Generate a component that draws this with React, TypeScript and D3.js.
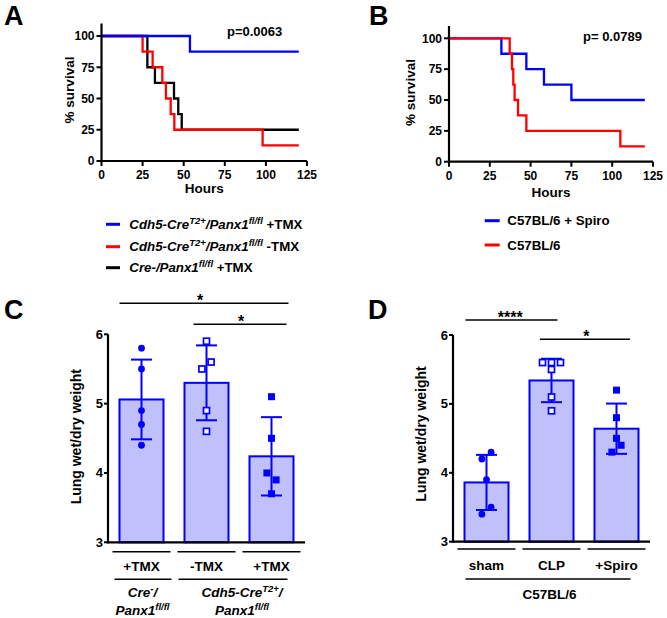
import React from "react";
import * as d3 from "d3";

// ---------- Data ----------
const hoursTicks = [0, 25, 50, 75, 100, 125];
const survivalTicks = [0, 25, 50, 75, 100];

// Panel A survival curves (time in hours, % survival after each step)
const aBlueT = [0, 53.8, 120];
const aBlueS = [100, 87.5, 87.5];
const aRedT = [0, 25, 31.1, 37, 39.2, 42.1, 44.3, 98, 120];
const aRedS = [100, 87.5, 75, 62.5, 50, 37.5, 25, 12.5, 12.5];
const aBlackT = [0, 27.9, 32.5, 44.1, 46.7, 48.8, 120];
const aBlackS = [100, 75, 62.5, 50, 37.5, 25, 25];
const pValueA = "p=0.0063";

// Panel B survival curves
const bBlueT = [0, 32.1, 47.4, 58.2, 75, 120];
const bBlueS = [100, 87.5, 75, 62.5, 50, 50];
const bRedT = [0, 37.2, 38.6, 39.4, 40.2, 42.3, 47.4, 105, 120];
const bRedS = [100, 87.5, 75, 62.5, 50, 37.5, 25, 12.5, 12.5];
const pValueB = "p= 0.0789";

// Panel C / D lung wet/dry weight
const weightTicks = [3, 4, 5, 6];
const cCategories = ["+TMX", "-TMX", "+TMX"];
const cMeans = [5.06, 5.3, 4.24];
const cSD = [0.575, 0.54, 0.565];
const cPoints1 = [5.8, 5.5, 4.9, 4.7, 4.4];
const cPoints2 = [5.9, 5.5, 5.6, 4.9, 4.6];
const cPoints3 = [5.1, 4.5, 4.0, 3.9, 3.7];

const dCategories = ["sham", "CLP", "+Spiro"];
const dMeans = [3.86, 5.34, 4.64];
const dSD = [0.4, 0.315, 0.365];
const dPoints1 = [4.2, 4.3, 3.9, 3.4, 3.5];
const dPoints2 = [5.6, 5.6, 5.6, 5.5, 5.1, 4.9];
const dPoints3 = [5.2, 4.8, 4.3, 4.5, 4.4];

// ---------- Styles ----------
const FONT = "'Liberation Sans', Arial, Helvetica, sans-serif";
const BLUE = "#0000ff";
const RED = "#ff0000";
const BLACK = "#000000";
const BAR_FILL = "#c0c0fc";

type Curve = { t: number[]; s: number[]; color: string };

function SurvivalPanel(props: {
  x0: number; x1: number; y0: number; y100: number;
  curves: Curve[]; pText: string; pX: number; pY: number;
  letter: string; letterX: number; hoursY: number; ylabelX: number; ylabelY: number;
}) {
  const { x0, x1, y0, y100, curves, pText, pX, pY, letter, letterX, hoursY, ylabelX, ylabelY } = props;
  const x = d3.scaleLinear().domain([0, 125]).range([x0, x1]);
  const y = d3.scaleLinear().domain([0, 100]).range([y0, y100]);
  const line = d3
    .line<number>()
    .curve(d3.curveStepAfter);
  return (
    <g fontFamily={FONT} fontWeight="bold">
      <text x={letterX} y={25} fontSize={27}>{letter}</text>
      {curves.map((c, i) => {
        const pts: [number, number][] = c.t.map((t, k) => [x(t), y(c.s[k])]);
        const path = d3.line().curve(d3.curveStepAfter)(pts) || "";
        return <path key={i} d={path} fill="none" stroke={c.color} strokeWidth={2.3} />;
      })}
      {/* axes */}
      <line x1={x(0)} x2={x(0)} y1={y(0) + 1} y2={y(110)} stroke={BLACK} strokeWidth={2.2} />
      <line x1={x(0) - 1} x2={x(125)} y1={y(0)} y2={y(0)} stroke={BLACK} strokeWidth={2.2} />
      {survivalTicks.map((t) => (
        <g key={"y" + t}>
          <line x1={x(0) - 5} x2={x(0)} y1={y(t)} y2={y(t)} stroke={BLACK} strokeWidth={2} />
          <text x={x(0) - 7} y={y(t) + 4.3} fontSize={12} textAnchor="end">{t}</text>
        </g>
      ))}
      {hoursTicks.map((t) => (
        <g key={"x" + t}>
          <line x1={x(t)} x2={x(t)} y1={y(0)} y2={y(0) + 5} stroke={BLACK} strokeWidth={2} />
          <text x={x(t)} y={y(0) + 18} fontSize={12} textAnchor="middle">{t}</text>
        </g>
      ))}
      <text x={(x(0) + x(125)) / 2} y={hoursY} fontSize={13.5} textAnchor="middle">Hours</text>
      <text transform={`translate(${ylabelX},${ylabelY}) rotate(-90)`} fontSize={13.5} textAnchor="middle">% survival</text>
      <text x={pX} y={pY} fontSize={13}>{pText}</text>
    </g>
  );
}

function dodge(values: number[], yScale: (v: number) => number) {
  const offsets = values.map(() => 0);
  const rowSpacing = 9;
  const spread = 4.6;
  const thresh = 7.2;
  const items = values.map((v, i) => ({ v, i }));
  const groups = d3.group(items, (d) => d.v);
  const singles: { v: number; i: number }[] = [];
  for (const [, arr] of groups) {
    if (arr.length > 1) arr.forEach((d, k) => (offsets[d.i] = (k - (arr.length - 1) / 2) * rowSpacing));
    else singles.push(arr[0]);
  }
  const sorted = singles.slice().sort((a, b) => b.v - a.v);
  let cluster: { v: number; i: number }[] = [];
  const flush = () => {
    if (cluster.length > 1) {
      const c = cluster.slice().sort((a, b) => a.i - b.i);
      c.forEach((d, k) => (offsets[d.i] = -spread + (2 * spread * k) / (c.length - 1)));
    }
    cluster = [];
  };
  sorted.forEach((d) => {
    if (cluster.length && Math.abs(yScale(cluster[cluster.length - 1].v) - yScale(d.v)) >= thresh) flush();
    cluster.push(d);
  });
  flush();
  return offsets;
}

function Marker({ kind, cx, cy }: { kind: number; cx: number; cy: number }) {
  if (kind === 0) return <circle cx={cx} cy={cy} r={3.4} fill={BLUE} />;
  if (kind === 1)
    return <rect x={cx - 3} y={cy - 3} width={6} height={6} fill="white" stroke={BLUE} strokeWidth={1.7} />;
  return <rect x={cx - 3.5} y={cy - 3.5} width={7} height={7} fill={BLUE} />;
}

function BarPanel(props: {
  axisX: number; y6: number; y3: number; categories: string[]; means: number[]; sds: number[];
  points: number[][]; letter: string; letterX: number; ylabelX: number; ylabelY: number;
  row1Y: number; row2Y: number; labelY: number; children?: (x: d3.ScaleBand<string>, y: d3.ScaleLinear<number, number>) => React.ReactNode;
}) {
  const { axisX, y6, y3, categories, means, sds, points, letter, letterX, ylabelX, ylabelY, row1Y, labelY } = props;
  const keys = categories.map((c, i) => i + ":" + c);
  const x = d3.scaleBand<string>().domain(keys).range([axisX, axisX + 197]).paddingInner(0.323).paddingOuter(0.177);
  const y = d3.scaleLinear().domain([3, 6]).range([y3, y6]);
  const bw = x.bandwidth();
  return (
    <g fontFamily={FONT} fontWeight="bold">
      <text x={letterX} y={319} fontSize={27}>{letter}</text>
      {keys.map((k, i) => {
        const cx = x(k)! + bw / 2;
        const offs = dodge(points[i], y);
        return (
          <g key={k}>
            <rect x={x(k)!} y={y(means[i])} width={bw} height={y(3) - y(means[i])} fill={BAR_FILL} stroke={BLUE} strokeWidth={2} />
            <line x1={cx} x2={cx} y1={y(means[i] + sds[i])} y2={y(means[i] - sds[i])} stroke={BLUE} strokeWidth={2} />
            <line x1={cx - 10.5} x2={cx + 10.5} y1={y(means[i] + sds[i])} y2={y(means[i] + sds[i])} stroke={BLUE} strokeWidth={2} />
            <line x1={cx - 10.5} x2={cx + 10.5} y1={y(means[i] - sds[i])} y2={y(means[i] - sds[i])} stroke={BLUE} strokeWidth={2} />
            {points[i].map((v, j) => (
              <Marker key={j} kind={i} cx={cx + offs[j]} cy={y(v)} />
            ))}
            <line x1={cx - 29} x2={cx + 29} y1={row1Y} y2={row1Y} stroke={BLACK} strokeWidth={1.6} />
            <text x={cx} y={labelY} fontSize={13.5} textAnchor="middle">{categories[i]}</text>
          </g>
        );
      })}
      <line x1={axisX} x2={axisX} y1={y(6)} y2={y(3) + 1} stroke={BLACK} strokeWidth={2.2} />
      <line x1={axisX - 1} x2={axisX + 197} y1={y(3)} y2={y(3)} stroke={BLACK} strokeWidth={2.2} />
      {weightTicks.map((t) => (
        <g key={t}>
          <line x1={axisX - 4} x2={axisX} y1={y(t)} y2={y(t)} stroke={BLACK} strokeWidth={2} />
          <text x={axisX - 5} y={y(t) + 4.5} fontSize={13} textAnchor="end">{t}</text>
        </g>
      ))}
      <text transform={`translate(${ylabelX},${ylabelY}) rotate(-90)`} fontSize={14} textAnchor="middle">Lung wet/dry weight</text>
      {props.children ? props.children(x, y) : null}
    </g>
  );
}

function SigBar({ x1, x2, y, label, labelX }: { x1: number; x2: number; y: number; label: string; labelX: number }) {
  return (
    <g>
      <line x1={x1} x2={x2} y1={y} y2={y} stroke={BLACK} strokeWidth={1.6} />
      <text x={labelX} y={y + 3} fontSize={16} textAnchor="middle" fontFamily={FONT} fontWeight="bold">{label}</text>
    </g>
  );
}

export default function App() {
  const supShift = -5;
  return (
    <svg width={667} height={618} style={{ position: "absolute", left: 0, top: 0, background: "white" }}>
      <rect width={667} height={618} fill="white" />
      <SurvivalPanel
        x0={101.5} x1={307} y0={161} y100={36}
        curves={[
          { t: aBlackT, s: aBlackS, color: BLACK },
          { t: aRedT, s: aRedS, color: RED },
          { t: aBlueT, s: aBlueS, color: BLUE },
        ]}
        pText={pValueA} pX={227} pY={36}
        letter="A" letterX={4} hoursY={193} ylabelX={74} ylabelY={90}
      />
      <SurvivalPanel
        x0={449} x1={653} y0={161.7} y100={38.3}
        curves={[
          { t: bBlueT, s: bBlueS, color: BLUE },
          { t: bRedT, s: bRedS, color: RED },
        ]}
        pText={pValueB} pX={583} pY={40.5}
        letter="B" letterX={369} hoursY={196.5} ylabelX={415} ylabelY={92.5}
      />

      {/* Legend A */}
      <g fontFamily={FONT} fontWeight="bold" fontSize={13.3}>
        <line x1={106} x2={120} y1={224.3} y2={224.3} stroke={BLUE} strokeWidth={3} />
        <text x={129.3} y={229}>
          <tspan fontStyle="italic">Cdh5-Cre</tspan>
          <tspan fontStyle="italic" fontSize={9.5} dy={supShift}>T2+</tspan>
          <tspan fontStyle="italic" dy={-supShift}>/Panx1</tspan>
          <tspan fontStyle="italic" fontSize={9.5} dy={supShift}>fl/fl</tspan>
          <tspan dy={-supShift}> +TMX</tspan>
        </text>
        <line x1={106} x2={120} y1={246.7} y2={246.7} stroke={RED} strokeWidth={3} />
        <text x={129.3} y={251.4}>
          <tspan fontStyle="italic">Cdh5-Cre</tspan>
          <tspan fontStyle="italic" fontSize={9.5} dy={supShift}>T2+</tspan>
          <tspan fontStyle="italic" dy={-supShift}>/Panx1</tspan>
          <tspan fontStyle="italic" fontSize={9.5} dy={supShift}>fl/fl</tspan>
          <tspan dy={-supShift}> -TMX</tspan>
        </text>
        <line x1={106} x2={120} y1={267.7} y2={267.7} stroke={BLACK} strokeWidth={3} />
        <text x={129.3} y={272.4}>
          <tspan fontStyle="italic">Cre-/Panx1</tspan>
          <tspan fontStyle="italic" fontSize={9.5} dy={supShift}>fl/fl</tspan>
          <tspan dy={-supShift}> +TMX</tspan>
        </text>
      </g>

      {/* Legend B */}
      <g fontFamily={FONT} fontWeight="bold" fontSize={13.3}>
        <line x1={484.7} x2={499.7} y1={220.7} y2={220.7} stroke={BLUE} strokeWidth={3} />
        <text x={507.3} y={225.4}>C57BL/6 + Spiro</text>
        <line x1={484.7} x2={499.7} y1={245} y2={245} stroke={RED} strokeWidth={3} />
        <text x={507.3} y={249.7}>C57BL/6</text>
      </g>

      {/* Panel C */}
      <BarPanel
        axisX={108} y6={334.3} y3={542.3}
        categories={cCategories} means={cMeans} sds={cSD}
        points={[cPoints1, cPoints2, cPoints3]}
        letter="C" letterX={4} ylabelX={81} ylabelY={436.7}
        row1Y={551.7} row2Y={579.3} labelY={570.5}
      >
        {(x, y) => {
          const k = x.domain();
          const bw = x.bandwidth();
          const c = k.map((d) => x(d)! + bw / 2);
          return (
            <g fontFamily={FONT} fontWeight="bold">
              <SigBar x1={x(k[0])!} x2={c[2] + 17} y={303.3} label="*" labelX={200} />
              <SigBar x1={c[1] - 13} x2={c[2] + 15} y={324.3} label="*" labelX={241} />
              <line x1={c[0] - 27} x2={c[0] + 30} y1={579.3} y2={579.3} stroke={BLACK} strokeWidth={1.6} />
              <line x1={c[1] - 28} x2={c[2] + 16} y1={579.3} y2={579.3} stroke={BLACK} strokeWidth={1.6} />
              <text x={c[0] + 1} y={596.5} fontSize={13.5} fontStyle="italic" textAnchor="middle">
                <tspan>Cre</tspan>
                <tspan fontSize={9.5} dy={-5}>-</tspan>
                <tspan dy={5}>/</tspan>
              </text>
              <text x={c[0] + 1} y={614.5} fontSize={13.5} fontStyle="italic" textAnchor="middle">
                <tspan>Panx1</tspan>
                <tspan fontSize={9.5} dy={-5}>fl/fl</tspan>
              </text>
              <text x={(c[1] + c[2]) / 2 + 3} y={596.5} fontSize={13.5} fontStyle="italic" textAnchor="middle">
                <tspan>Cdh5-Cre</tspan>
                <tspan fontSize={9.5} dy={-5}>T2+</tspan>
                <tspan dy={5}>/</tspan>
              </text>
              <text x={(c[1] + c[2]) / 2 + 3} y={614.5} fontSize={13.5} fontStyle="italic" textAnchor="middle">
                <tspan>Panx1</tspan>
                <tspan fontSize={9.5} dy={-5}>fl/fl</tspan>
              </text>
            </g>
          );
        }}
      </BarPanel>

      {/* Panel D */}
      <BarPanel
        axisX={453} y6={335} y3={541.7}
        categories={dCategories} means={dMeans} sds={dSD}
        points={[dPoints1, dPoints2, dPoints3]}
        letter="D" letterX={368} ylabelX={426} ylabelY={434}
        row1Y={549} row2Y={579} labelY={570}
      >
        {(x, y) => {
          const k = x.domain();
          const bw = x.bandwidth();
          const c = k.map((d) => x(d)! + bw / 2);
          return (
            <g fontFamily={FONT} fontWeight="bold">
              <SigBar x1={x(k[0])! + 1} x2={c[1] + 6} y={320} label="****" labelX={510.3} />
              <SigBar x1={c[1] - 11.6} x2={c[2] + 13.4} y={339.3} label="*" labelX={586.3} />
              <line x1={c[0] - 21} x2={c[2] + 14} y1={579} y2={579} stroke={BLACK} strokeWidth={1.6} />
              <text x={(c[0] + c[2]) / 2 - 2} y={599} fontSize={13.5} textAnchor="middle">C57BL/6</text>
            </g>
          );
        }}
      </BarPanel>
    </svg>
  );
}
